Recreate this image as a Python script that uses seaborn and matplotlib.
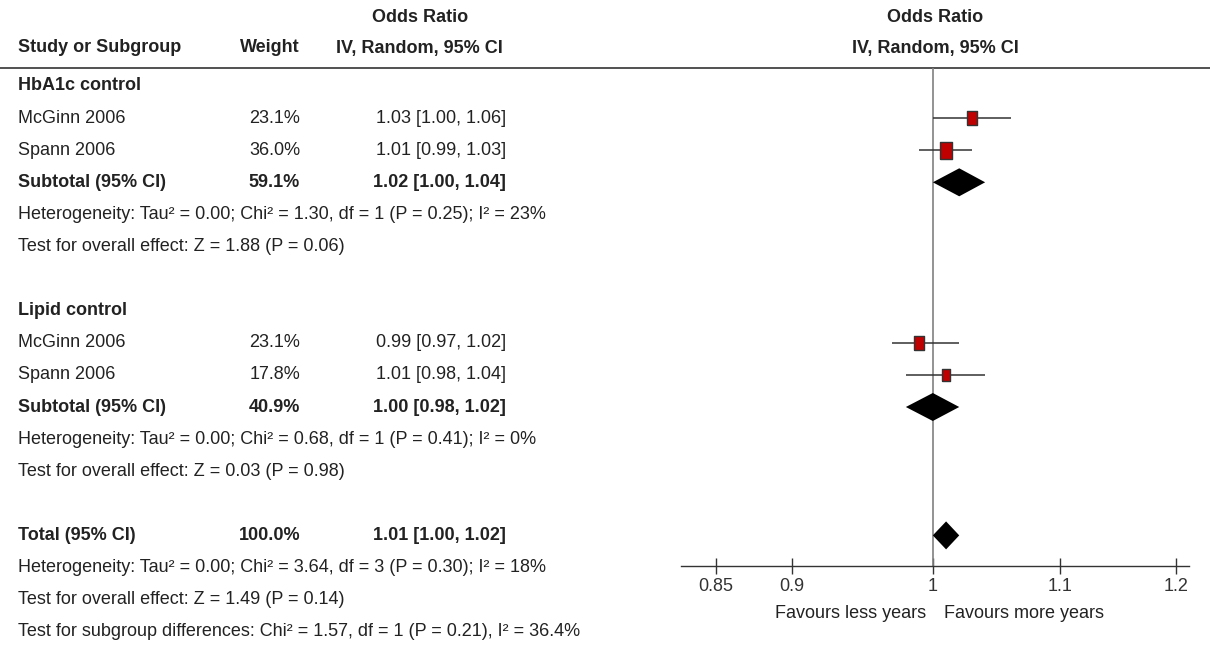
import matplotlib
matplotlib.use("Agg")
import matplotlib.pyplot as plt
import seaborn as sns
import pandas as pd

# study level data
study_names = ["McGinn 2006", "Spann 2006", "McGinn 2006", "Spann 2006"]
study_weights = [23.1, 36.0, 23.1, 17.8]
study_or = [1.03, 1.01, 0.99, 1.01]
study_lo = [1.00, 0.99, 0.97, 0.98]
study_hi = [1.06, 1.03, 1.02, 1.04]
study_rows = [1, 2, 8, 9]

# pooled estimates (two subtotals + total)
pooled_labels = ["Subtotal (95% CI)", "Subtotal (95% CI)", "Total (95% CI)"]
pooled_weights = ["59.1%", "40.9%", "100.0%"]
pooled_or = [1.02, 1.00, 1.01]
pooled_lo = [1.00, 0.98, 1.00]
pooled_hi = [1.04, 1.02, 1.02]
pooled_rows = [3, 10, 14]

group_labels = ["HbA1c control", "Lipid control"]
group_rows = [0, 7]

stat_lines = [
    "Heterogeneity: Tau\u00b2 = 0.00; Chi\u00b2 = 1.30, df = 1 (P = 0.25); I\u00b2 = 23%",
    "Test for overall effect: Z = 1.88 (P = 0.06)",
    "Heterogeneity: Tau\u00b2 = 0.00; Chi\u00b2 = 0.68, df = 1 (P = 0.41); I\u00b2 = 0%",
    "Test for overall effect: Z = 0.03 (P = 0.98)",
    "Heterogeneity: Tau\u00b2 = 0.00; Chi\u00b2 = 3.64, df = 3 (P = 0.30); I\u00b2 = 18%",
    "Test for overall effect: Z = 1.49 (P = 0.14)",
    "Test for subgroup differences: Chi\u00b2 = 1.57, df = 1 (P = 0.21), I\u00b2 = 36.4%",
]
stat_rows = [4, 5, 11, 12, 15, 16, 17]

tick_vals = [0.85, 0.9, 1, 1.1, 1.2]
tick_labels = ["0.85", "0.9", "1", "1.1", "1.2"]

sns.set_theme(style="white")
plt.rcParams["font.family"] = ["Liberation Sans", "DejaVu Sans"]

W, H = 1210, 646
FS = 13
TXT = "#222222"
ROW0, ROWH = 86, 32.1


def row_y(k):
    return ROW0 + ROWH * k


fig = plt.figure(figsize=(W / 100, H / 100), dpi=100)

# full-figure text layer in pixel units
tx = fig.add_axes([0, 0, 1, 1])
tx.set_xlim(0, W)
tx.set_ylim(H, 0)
tx.axis("off")
tx.patch.set_alpha(0)

# forest panel
top, bot, left, right = 68, 566, 681, 1189
ax = fig.add_axes([left / W, (H - bot) / H, (right - left) / W, (bot - top) / H])
ax.set_xscale("log")
ax.set_xlim(0.828, 1.2117)
ax.set_ylim(bot, top)
ax.patch.set_alpha(0)
for s in ["top", "left", "right"]:
    ax.spines[s].set_visible(False)
ax.spines["bottom"].set_color("#333333")
ax.spines["bottom"].set_linewidth(1)
ax.set_xticks(tick_vals)
ax.set_xticklabels(tick_labels)
ax.minorticks_off()
ax.tick_params(axis="x", direction="inout", length=11, width=1, color="#333333",
               labelsize=FS, labelcolor="#333333", pad=3, bottom=True)
ax.set_yticks([])
ax.set_xlabel("")
ax.set_ylabel("")

# null line
ax.axvline(1, color="#808080", lw=1.2, zorder=1)

# confidence intervals
ys = [row_y(k) for k in study_rows]
ax.hlines(ys, study_lo, study_hi, color="#333333", lw=1.1, zorder=2)

df = pd.DataFrame({"or": study_or, "y": ys, "w": study_weights})
box = [(-0.72, -1), (0.72, -1), (0.72, 1), (-0.72, 1), (-0.72, -1)]
sns.scatterplot(data=df, x="or", y="y", size="w", sizes=(0, 150), size_norm=(0, 36.0),
                marker=box, color="#c00000", edgecolor="#333333", linewidth=1,
                legend=False, zorder=3, ax=ax)
ax.set_xlabel("")
ax.set_ylabel("")

# diamonds
for est, lo, hi, k in zip(pooled_or, pooled_lo, pooled_hi, pooled_rows):
    y = row_y(k)
    ax.fill([lo, est, hi, est], [y, y - 14, y, y + 14], color="black", lw=0, zorder=4)

# header
tx.plot([0, W], [68, 68], color="#333333", lw=1.2)
hdr = dict(fontsize=FS, color=TXT, fontweight="bold", va="center")
tx.text(420, 18, "Odds Ratio", ha="center", **hdr)
tx.text(935, 18, "Odds Ratio", ha="center", **hdr)
tx.text(18, 48, "Study or Subgroup", ha="left", **hdr)
tx.text(300, 48, "Weight", ha="right", **hdr)
tx.text(419, 48, "IV, Random, 95% CI", ha="center", **hdr)
tx.text(935, 48, "IV, Random, 95% CI", ha="center", **hdr)

norm = dict(fontsize=FS, color=TXT, va="center")
for lab, k in zip(group_labels, group_rows):
    tx.text(18, row_y(k), lab, ha="left", fontweight="bold", **norm)

for name, w, est, lo, hi, k in zip(study_names, study_weights, study_or, study_lo, study_hi, study_rows):
    y = row_y(k)
    tx.text(18, y, name, ha="left", **norm)
    tx.text(300, y, f"{w:.1f}%", ha="right", **norm)
    tx.text(506, y, f"{est:.2f} [{lo:.2f}, {hi:.2f}]", ha="right", **norm)

for lab, w, est, lo, hi, k in zip(pooled_labels, pooled_weights, pooled_or, pooled_lo, pooled_hi, pooled_rows):
    y = row_y(k)
    tx.text(18, y, lab, ha="left", fontweight="bold", **norm)
    tx.text(300, y, w, ha="right", fontweight="bold", **norm)
    tx.text(506, y, f"{est:.2f} [{lo:.2f}, {hi:.2f}]", ha="right", fontweight="bold", **norm)

for line, k in zip(stat_lines, stat_rows):
    tx.text(18, row_y(k), line, ha="left", **norm)

tx.text(926, 614, "Favours less years", ha="right", **norm)
tx.text(944, 614, "Favours more years", ha="left", **norm)

fig.savefig("out.png", dpi=100)
